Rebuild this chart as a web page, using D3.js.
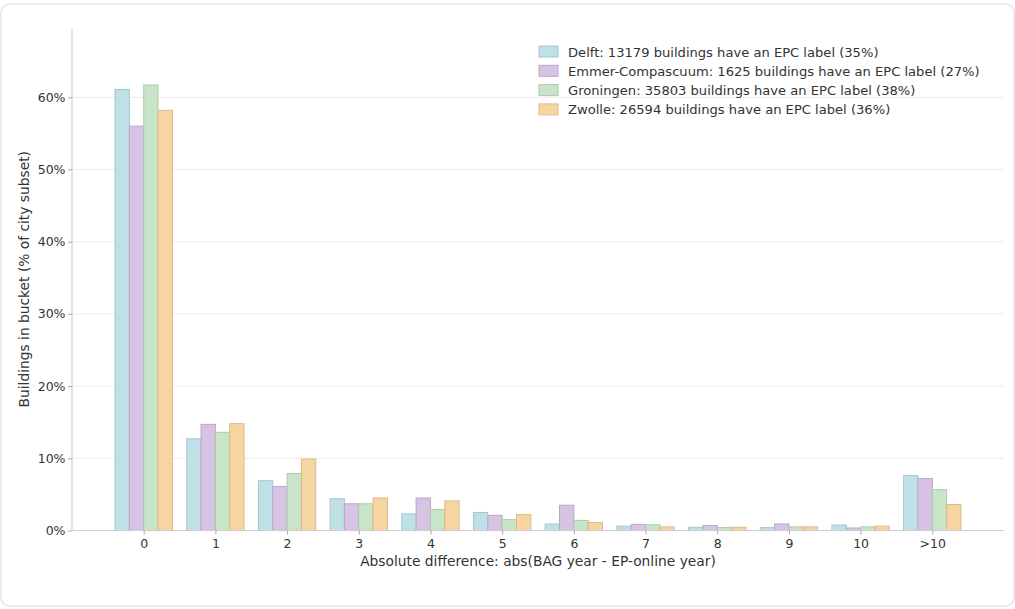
<!DOCTYPE html>
<html>
<head>
<meta charset="utf-8">
<script src="https://cdn.jsdelivr.net/npm/d3@7/dist/d3.min.js"></script>
<style>
  html, body { margin: 0; padding: 0; background: #ffffff; }
  svg { display: block; font-family: "DejaVu Sans", sans-serif; }
</style>
</head>
<body>
<svg id="chart" width="1015" height="609"></svg>
<script>
// Buckets of |BAG year - EP-online year|
const categories = ["0", "1", "2", "3", "4", "5", "6", "7", "8", "9", "10", ">10"];

// Share of each city's labelled buildings per bucket (%)
const delft      = [61.1, 12.7, 6.9, 4.4, 2.3, 2.5, 0.9, 0.6, 0.45, 0.4, 0.75, 7.6];
const emmer      = [56.0, 14.7, 6.1, 3.7, 4.5, 2.1, 3.5, 0.85, 0.7, 0.9, 0.35, 7.2];
const groningen  = [61.7, 13.6, 7.9, 3.7, 2.9, 1.5, 1.4, 0.8, 0.4, 0.5, 0.5, 5.65];
const zwolle     = [58.2, 14.8, 9.9, 4.5, 4.1, 2.2, 1.1, 0.5, 0.45, 0.5, 0.6, 3.6];

const seriesNames = [
  "Delft: 13179 buildings have an EPC label (35%)",
  "Emmer-Compascuum: 1625 buildings have an EPC label (27%)",
  "Groningen: 35803 buildings have an EPC label (38%)",
  "Zwolle: 26594 buildings have an EPC label (36%)"
];
const seriesValues = [delft, emmer, groningen, zwolle];
const seriesColors = ["#bfe0e7", "#d7c3e3", "#c9e5c9", "#f6d5a2"];
const seriesEdges  = ["#a6c6cc", "#bba8c8", "#aecaae", "#dcbb8a"];

const yTicks = [0, 10, 20, 30, 40, 50, 60];

const svg = d3.select("#chart");

// card frame
svg.append("rect")
  .attr("x", 0.75).attr("y", 4).attr("width", 1013.5).attr("height", 602)
  .attr("rx", 9).attr("fill", "#ffffff")
  .attr("stroke", "#e6e6e6").attr("stroke-width", 1.5);

const plot = { left: 72, right: 1004, top: 28, bottom: 530.5 };

const x = d3.scaleLinear().domain([-1, 12]).range([plot.left, plot.right]);
const y = d3.scaleLinear().domain([0, 69.6]).range([plot.bottom, plot.top]);
const barW = 0.2;

// horizontal grid
svg.append("g")
  .selectAll("line")
  .data(yTicks.filter(t => t > 0))
  .join("line")
  .attr("x1", plot.left).attr("x2", plot.right)
  .attr("y1", d => y(d)).attr("y2", d => y(d))
  .attr("stroke", "#ececec").attr("stroke-width", 1);

// bars
seriesValues.forEach((vals, j) => {
  svg.append("g")
    .selectAll("rect")
    .data(vals)
    .join("rect")
    .attr("x", (d, i) => x(i + (j - 2) * barW))
    .attr("width", x(barW) - x(0))
    .attr("y", d => y(d))
    .attr("height", d => y(0) - y(d))
    .attr("fill", seriesColors[j])
    .attr("stroke", seriesEdges[j])
    .attr("stroke-width", 1);
});

// y axis
const yAxis = d3.axisLeft(y)
  .tickValues(yTicks)
  .tickFormat(d => d + "%")
  .tickSize(4).tickPadding(2.5);
const gy = svg.append("g").attr("transform", `translate(${plot.left},0)`).call(yAxis);
gy.select(".domain").attr("stroke", "#cccccc").attr("d", `M0,${plot.top}V${plot.bottom}`);
gy.selectAll(".tick line").attr("stroke", "#aaaaaa");
gy.selectAll(".tick text").attr("fill", "#333").style("font-size", "12.5px")
  .style("font-family", "DejaVu Sans");

// x axis
const xAxis = d3.axisBottom(x)
  .tickValues(d3.range(categories.length))
  .tickFormat(i => categories[i])
  .tickSize(4).tickPadding(5);
const gx = svg.append("g").attr("transform", `translate(0,${plot.bottom})`).call(xAxis);
gx.select(".domain").attr("stroke", "#cccccc").attr("d", `M${plot.left},0H${plot.right}`);
gx.selectAll(".tick line").attr("stroke", "#aaaaaa");
gx.selectAll(".tick text").attr("fill", "#333").style("font-size", "12.5px")
  .style("font-family", "DejaVu Sans");

// axis titles
svg.append("text")
  .attr("x", (plot.left + plot.right) / 2).attr("y", 566)
  .attr("text-anchor", "middle").attr("fill", "#333")
  .style("font-size", "13.8px")
  .text("Absolute difference: abs(BAG year - EP-online year)");

svg.append("text")
  .attr("transform", `translate(29,${(plot.top + plot.bottom) / 2}) rotate(-90)`)
  .attr("text-anchor", "middle").attr("fill", "#333")
  .style("font-size", "13.8px")
  .text("Buildings in bucket (% of city subset)");

// legend
const legend = svg.append("g").attr("transform", "translate(539,46)");
seriesNames.forEach((name, j) => {
  const row = legend.append("g").attr("transform", `translate(0,${j * 19.3})`);
  row.append("rect")
    .attr("x", 0).attr("y", 0).attr("width", 19).attr("height", 11)
    .attr("fill", seriesColors[j]).attr("stroke", seriesEdges[j]).attr("stroke-width", 1);
  row.append("text")
    .attr("x", 29).attr("y", 10.5)
    .attr("fill", "#333").style("font-size", "13.1px")
    .text(name);
});
</script>
</body>
</html>
